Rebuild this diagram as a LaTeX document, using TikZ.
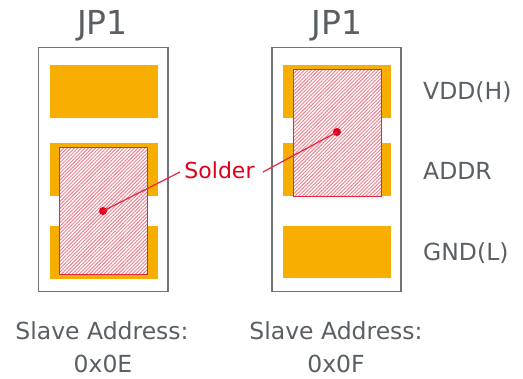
\documentclass[tikz,border=0pt]{standalone}
\usepackage{fontspec}
\setmainfont{DejaVu Sans}
\usetikzlibrary{patterns.meta}
\definecolor{padc}{HTML}{F7AE00}
\definecolor{redc}{HTML}{E0001B}
\definecolor{framec}{HTML}{6E7478}
\definecolor{textc}{HTML}{5A5F63}
\tikzset{
  x=1bp,y=-1bp,
  frameb/.style={draw=framec,line width=1.2bp,fill=white},
  padb/.style={fill=padc,draw=none},
  solderb/.style={fill=white,postaction={pattern={Lines[angle=45,distance=2.5bp,line width=0.95bp]},pattern color=redc!50!white},postaction={draw=redc!85!white,line width=1bp}},
  dotb/.style={circle,fill=redc,inner sep=0pt,minimum size=8bp},
  leadb/.style={draw=redc!85!white,line width=1.2bp},
  lab/.style={text=textc,font=\fontsize{23.5bp}{28bp}\selectfont,inner sep=0pt},
  tit/.style={text=textc,font=\fontsize{33bp}{38bp}\selectfont,inner sep=0pt},
}
\begin{document}
\begin{tikzpicture}
\useasboundingbox (0,0) rectangle (523,378);
\fill[white] (0,0) rectangle (523,378);
\draw[frameb] (38.5,47.5) rectangle (168,291.5);
\draw[frameb] (272,47.5) rectangle (401,291.5);
\fill[padb] (50,65) rectangle (158,118);
\fill[padb] (50,143) rectangle (158,196);
\fill[padb] (50,226) rectangle (158,279);
\fill[padb] (283,65) rectangle (391,118);
\fill[padb] (283,143) rectangle (391,196);
\fill[padb] (283,226) rectangle (391,278);
\path[solderb] (59,147) rectangle (147,274);
\path[solderb] (293,69) rectangle (381,196);
\node[dotb] (d1) at (103,211) {};
\node[dotb] (d2) at (337,132) {};
\node[text=redc,font=\fontsize{22bp}{26bp}\selectfont,inner sep=0pt] (s) at (219.5,170) {Solder};
\coordinate (s1) at (180,172);
\coordinate (s2) at (263,172);
\draw[leadb] (d1.center) -- (s1);
\draw[leadb] (d2.center) -- (s2);
\node[tit] (j1) at (102.5,25.5) {JP1};
\node[tit] (j2) at (337,25.5) {JP1};
\node[lab,anchor=west] (v) at (423,92) {VDD(H)};
\node[lab,anchor=west] (a) at (423,171) {ADDR};
\node[lab,anchor=west] (g) at (423,253) {GND(L)};
\node[lab] (a1) at (102,331) {Slave Address:};
\node[lab] (b1) at (103,364) {0x0E};
\node[lab] (a2) at (336,331) {Slave Address:};
\node[lab] (b2) at (336,364) {0x0F};
\end{tikzpicture}
\end{document}
